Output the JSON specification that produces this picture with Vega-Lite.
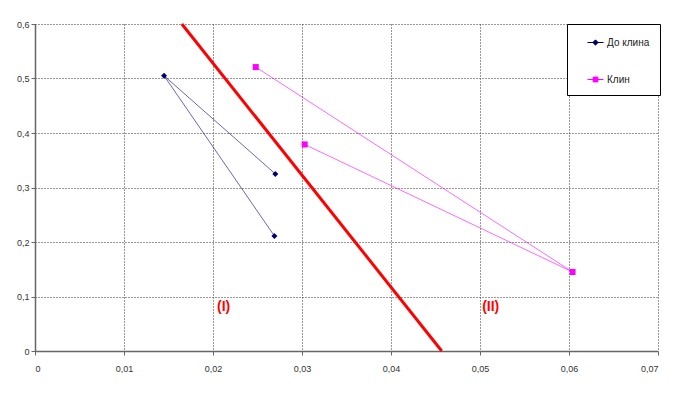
{
  "$schema": "https://vega.github.io/schema/vega-lite/v6.json",
  "autosize": {"type": "none"},
  "width": 623,
  "height": 327,
  "padding": {"left": 35, "top": 24, "right": 22, "bottom": 43},
  "background": "white",
  "config": {
    "view": {"stroke": null},
    "font": "Liberation Sans",
    "axis": {
      "grid": true,
      "gridColor": "#333333",
      "gridDash": [1, 2],
      "gridWidth": 1,
      "domainColor": "#666666",
      "domainWidth": 1.5,
      "tickColor": "#666666",
      "tickSize": 4,
      "labelFont": "Liberation Sans",
      "labelFontSize": 9,
      "labelColor": "#333333",
      "title": null
    }
  },
  "datasets": {
    "series": [
      {"series": "До клина", "ord": 1, "x": 0.0270, "y": 0.325},
      {"series": "До клина", "ord": 2, "x": 0.0145, "y": 0.505},
      {"series": "До клина", "ord": 3, "x": 0.0269, "y": 0.211},
      {"series": "Клин", "ord": 1, "x": 0.0248, "y": 0.521},
      {"series": "Клин", "ord": 2, "x": 0.0604, "y": 0.145},
      {"series": "Клин", "ord": 3, "x": 0.0303, "y": 0.379}
    ],
    "boundary": [
      {"x": 0.0165, "y": 0.6},
      {"x": 0.0457, "y": 0.0}
    ],
    "labels": [
      {"x": 0.0212, "y": 0.081, "text": "(I)"},
      {"x": 0.0512, "y": 0.081, "text": "(II)"}
    ]
  },
  "layer": [
    {
      "data": {"name": "series"},
      "transform": [{"filter": "datum.series === 'До клина'"}],
      "mark": {"type": "line", "strokeWidth": 0.8, "opacity": 0.75, "color": "#000080"},
      "encoding": {
        "x": {"field": "x", "type": "quantitative",
              "scale": {"domain": [0, 0.07], "nice": false, "zero": false},
              "axis": {"values": [0, 0.01, 0.02, 0.03, 0.04, 0.05, 0.06, 0.07],
                       "labelExpr": "replace(format(datum.value, '~g'), '.', ',')",
                       "labelPadding": 9}},
        "y": {"field": "y", "type": "quantitative",
              "scale": {"domain": [0, 0.6], "nice": false, "zero": false},
              "axis": {"values": [0, 0.1, 0.2, 0.3, 0.4, 0.5, 0.6],
                       "labelExpr": "replace(format(datum.value, '~g'), '.', ',')",
                       "labelPadding": 2}},
        "order": {"field": "ord", "type": "quantitative"}
      }
    },
    {
      "data": {"name": "series"},
      "transform": [{"filter": "datum.series === 'Клин'"}],
      "mark": {"type": "line", "strokeWidth": 0.8, "opacity": 0.75, "color": "#ff00ff"},
      "encoding": {
        "x": {"field": "x", "type": "quantitative"},
        "y": {"field": "y", "type": "quantitative"},
        "order": {"field": "ord", "type": "quantitative"}
      }
    },
    {
      "data": {"name": "series"},
      "transform": [{"filter": "datum.series === 'До клина'"}],
      "mark": {"type": "point", "filled": true, "size": 36, "opacity": 1, "shape": "diamond", "color": "#000066"},
      "encoding": {
        "x": {"field": "x", "type": "quantitative"},
        "y": {"field": "y", "type": "quantitative"}
      }
    },
    {
      "data": {"name": "series"},
      "transform": [{"filter": "datum.series === 'Клин'"}],
      "mark": {"type": "point", "filled": true, "size": 36, "opacity": 1, "shape": "square", "color": "#ff00ff"},
      "encoding": {
        "x": {"field": "x", "type": "quantitative"},
        "y": {"field": "y", "type": "quantitative"}
      }
    },
    {
      "data": {"name": "series"},
      "mark": {"type": "point", "filled": true, "opacity": 1, "strokeWidth": 1, "size": 0},
      "encoding": {
        "x": {"field": "x", "type": "quantitative"},
        "y": {"field": "y", "type": "quantitative"},
        "color": {"field": "series", "type": "nominal",
                  "scale": {"domain": ["До клина", "Клин"], "range": ["#000066", "#ff00ff"]},
                  "legend": {
                     "title": null,
                     "orient": "none",
                     "legendX": 532,
                     "legendY": 0,
                     "direction": "vertical",
                     "strokeColor": "#000000",
                     "fillColor": "white",
                     "padding": 10,
                     "rowPadding": 23,
                     "symbolSize": 256,
                     "symbolOffset": 10,
                     "symbolStrokeWidth": 1,
                     "labelFont": "Liberation Sans",
                     "labelFontSize": 10,
                     "labelColor": "#222222",
                     "labelOffset": 3
                  }},
        "stroke": {"field": "series", "type": "nominal",
                  "scale": {"domain": ["До клина", "Клин"], "range": ["#000066", "#ff00ff"]}},
        "shape": {"field": "series", "type": "nominal",
                  "scale": {"domain": ["До клина", "Клин"],
                            "range": ["M-1,0H1M0,-0.33L0.33,0L0,0.33L-0.33,0Z", "M-1,0H1M-0.3,-0.3H0.3V0.3H-0.3Z"]}}
      }
    },
    {
      "data": {"name": "boundary"},
      "mark": {"type": "line", "color": "#ff0000", "strokeWidth": 3},
      "encoding": {
        "x": {"field": "x", "type": "quantitative"},
        "y": {"field": "y", "type": "quantitative"}
      }
    },
    {
      "data": {"name": "labels"},
      "mark": {"type": "text", "color": "#ff0000", "fontWeight": "bold", "fontSize": 14, "font": "Liberation Sans"},
      "encoding": {
        "x": {"field": "x", "type": "quantitative"},
        "y": {"field": "y", "type": "quantitative"},
        "text": {"field": "text"}
      }
    }
  ]
}
